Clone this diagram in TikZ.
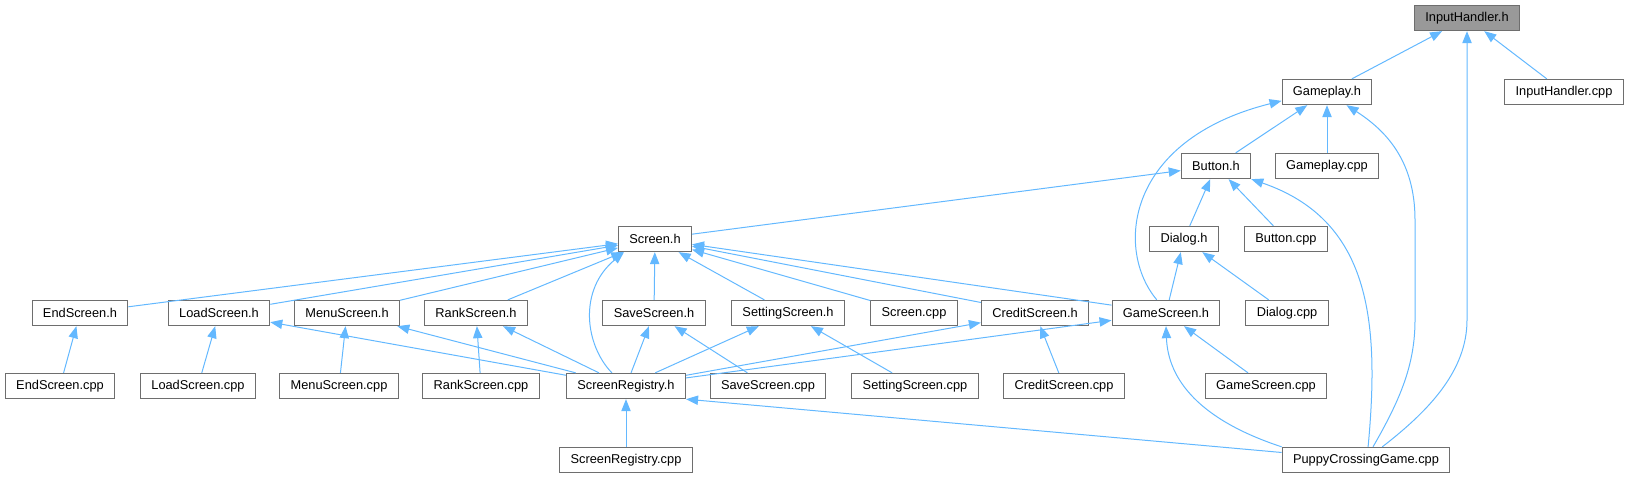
\documentclass[tikz,border=0pt]{standalone}
\usepackage{fontspec}
\setmainfont{Liberation Sans}
\usetikzlibrary{arrows.meta}
\definecolor{edgeblue}{HTML}{63B8FF}
\definecolor{boxgray}{HTML}{6E6E6E}
\definecolor{curgray}{HTML}{999999}

\begin{document}
\begin{tikzpicture}[x=0.75pt, y=-0.75pt,
    filebox/.style={draw=boxgray, line width=0.75pt, fill=white, inner xsep=8.2pt, inner ysep=0pt,
        minimum height=19pt, font=\fontsize{9.6}{11}\selectfont},
    incl/.style={color=edgeblue, line width=0.75pt, -{Triangle[length=9pt, width=7pt]}}]
    \useasboundingbox (0,0) rectangle (1630,478);
    % Top files
    \node[filebox, fill=curgray] (inh) at (1467,18) {InputHandler.h};
    \node[filebox] (gph) at (1327,92) {Gameplay.h};
    \node[filebox] (inhcpp) at (1564,92) {InputHandler.cpp};
    \node[filebox] (bth) at (1216,166) {Button.h};
    \node[filebox] (gpcpp) at (1327,166) {Gameplay.cpp};
    \node[filebox] (scrh) at (655,239) {Screen.h};
    \node[filebox] (dlgh) at (1184,239) {Dialog.h};
    \node[filebox] (btcpp) at (1286,239) {Button.cpp};
    % Screen headers
    \node[filebox] (endh) at (80,313) {EndScreen.h};
    \node[filebox] (loadh) at (219,313) {LoadScreen.h};
    \node[filebox] (menuh) at (347,313) {MenuScreen.h};
    \node[filebox] (rankh) at (476,313) {RankScreen.h};
    \node[filebox] (saveh) at (654,313) {SaveScreen.h};
    \node[filebox] (seth) at (788,313) {SettingScreen.h};
    \node[filebox] (scrcpp) at (914,313) {Screen.cpp};
    \node[filebox] (credh) at (1035,313) {CreditScreen.h};
    \node[filebox] (gmh) at (1166,313) {GameScreen.h};
    \node[filebox] (dlgcpp) at (1287,313) {Dialog.cpp};
    % Sources
    \node[filebox] (endcpp) at (60,386) {EndScreen.cpp};
    \node[filebox] (loadcpp) at (198,386) {LoadScreen.cpp};
    \node[filebox] (menucpp) at (339,386) {MenuScreen.cpp};
    \node[filebox] (rankcpp) at (481,386) {RankScreen.cpp};
    \node[filebox] (regh) at (626,386) {ScreenRegistry.h};
    \node[filebox] (savecpp) at (768,386) {SaveScreen.cpp};
    \node[filebox] (setcpp) at (915,386) {SettingScreen.cpp};
    \node[filebox] (credcpp) at (1064,386) {CreditScreen.cpp};
    \node[filebox] (gmcpp) at (1266,386) {GameScreen.cpp};
    \node[filebox] (regcpp) at (626,460) {ScreenRegistry.cpp};
    \node[filebox] (puppy) at (1366,460) {PuppyCrossingGame.cpp};
    % Includes of InputHandler.h and Gameplay.h
    \draw[incl] (gph) -- (inh);
    \draw[incl] (inhcpp) -- (inh);
    \draw[incl] (bth) -- (gph);
    \draw[incl] (gpcpp) -- (gph);
    \draw[incl] (gmh.125) .. controls (1115,250) and (1125,140) .. (gph.191);
    % Includes of Button.h and Dialog.h
    \draw[incl] (scrh) -- (bth);
    \draw[incl] (dlgh) -- (bth);
    \draw[incl] (btcpp) -- (bth);
    \draw[incl] (gmh) -- (dlgh);
    \draw[incl] (dlgcpp) -- (dlgh);
    % Includes of Screen.h
    \foreach \f in {endh, loadh, menuh, rankh, saveh, seth, scrcpp, credh, gmh}
        \draw[incl] (\f) -- (scrh);
    \draw[incl] (regh.137) .. controls (585,345) and (578,290) .. (scrh.203);
    % Screen sources
    \draw[incl] (endcpp) -- (endh);
    \draw[incl] (loadcpp) -- (loadh);
    \draw[incl] (menucpp) -- (menuh);
    \draw[incl] (rankcpp) -- (rankh);
    \draw[incl] (savecpp) -- (saveh);
    \draw[incl] (setcpp) -- (seth);
    \draw[incl] (credcpp) -- (credh);
    \draw[incl] (gmcpp) -- (gmh);
    % Includes from ScreenRegistry.h
    \foreach \f in {loadh, menuh, rankh, saveh, seth, credh, gmh}
        \draw[incl] (regh) -- (\f);
    \draw[incl] (regcpp) -- (regh);
    % Includes from PuppyCrossingGame.cpp
    \draw[incl] (puppy) -- (regh.south east);
    \draw[incl] (puppy.north west) .. controls (1200,420) and (1168,380) .. (gmh.south);
    \draw[incl] (puppy.81) .. controls (1380,320) and (1370,220) .. (bth.south east);
    \draw[incl] (puppy.62) .. controls (1400,400) and (1415,365) .. (1415,320) -- (1415,220)
        .. controls (1415,160) and (1385,130) .. (gph.-34);
    \draw[incl] (puppy.39) .. controls (1430,410) and (1467,370) .. (1467,320) -- (inh.south);
\end{tikzpicture}
\end{document}
